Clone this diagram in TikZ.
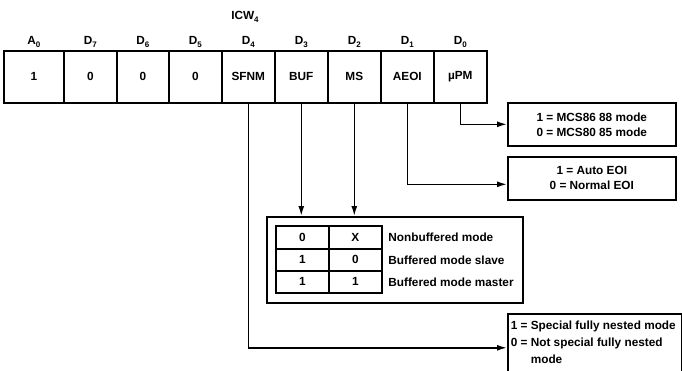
\documentclass[tikz,border=0pt]{standalone}
\usepackage{fontspec}
\setmainfont{Liberation Sans}
\usetikzlibrary{arrows.meta}
\newcommand\subx[1]{\raisebox{-0.5ex}{\fontsize{8}{9}\selectfont #1}}
\begin{document}
\begin{tikzpicture}[x=1pt,y=-1pt,
  line width=1.6pt,
  font=\fontsize{11.8}{15}\selectfont\bfseries,
  cellbox/.style={draw,minimum height=52pt,inner sep=0pt,anchor=north west},
  lbl/.style={inner sep=0pt},
  tcell/.style={draw,inner sep=0pt,anchor=north west},
  infobox/.style={draw,inner sep=0pt,anchor=north west},
  txt/.style={inner sep=0pt},
  arr/.style={-{Latex[length=10pt,width=6pt]}}
]
\useasboundingbox (0,0) rectangle (682,370);
% register
\node[cellbox,minimum width=60pt] (a0) at (3,50) {1};
\node[cellbox,minimum width=53pt] (d7) at (63,50) {0};
\node[cellbox,minimum width=52pt] (d6) at (116,50) {0};
\node[cellbox,minimum width=53pt] (d5) at (168,50) {0};
\node[cellbox,minimum width=53pt] (d4) at (221,50) {SFNM};
\node[cellbox,minimum width=53pt] (d3) at (274,50) {BUF};
\node[cellbox,minimum width=53pt] (d2) at (327,50) {MS};
\node[cellbox,minimum width=53pt] (d1) at (380,50) {AEOI};
\node[cellbox,minimum width=53pt] (d0) at (433,50) {µPM};
% labels
\node[lbl] (icw) at (245,17) {ICW\subx{4}};
\node[lbl] (la0) at (a0.center |- 0,42) {A\subx{0}};
\node[lbl] (ld7) at (d7.center |- 0,42) {D\subx{7}};
\node[lbl] (ld6) at (d6.center |- 0,42) {D\subx{6}};
\node[lbl] (ld5) at (d5.center |- 0,42) {D\subx{5}};
\node[lbl] (ld4) at (d4.center |- 0,42) {D\subx{4}};
\node[lbl] (ld3) at (d3.center |- 0,42) {D\subx{3}};
\node[lbl] (ld2) at (d2.center |- 0,42) {D\subx{2}};
\node[lbl] (ld1) at (d1.center |- 0,42) {D\subx{1}};
\node[lbl] (ld0) at (d0.center |- 0,42) {D\subx{0}};
% right boxes
\node[infobox,minimum width=168pt,minimum height=43pt,align=center] (mcs) at (507,102)
  {1 = MCS86 88 mode\\0 = MCS80 85 mode};
\node[infobox,minimum width=168pt,minimum height=43pt,align=center] (eoi) at (507,156)
  {1 = Auto EOI\\0 = Normal EOI};
% middle box
\node[infobox,minimum width=256pt,minimum height=86pt] (mid) at (266,216) {};
\node[tcell,minimum width=53pt,minimum height=23pt] (t11) at (275,225) {0};
\node[tcell,minimum width=53pt,minimum height=23pt] (t12) at (328,225) {X};
\node[tcell,minimum width=53pt,minimum height=22pt] (t21) at (275,248) {1};
\node[tcell,minimum width=53pt,minimum height=22pt] (t22) at (328,248) {0};
\node[tcell,minimum width=53pt,minimum height=22pt] (t31) at (275,270) {1};
\node[tcell,minimum width=53pt,minimum height=22pt] (t32) at (328,270) {1};
\node[txt,anchor=west] (r1) at ([xshift=5pt]t12.east) {Nonbuffered mode};
\node[txt,anchor=west] (r2) at ([xshift=5pt]t22.east) {Buffered mode slave};
\node[txt,anchor=west] (r3) at ([xshift=5pt]t32.east) {Buffered mode master};
% bottom box
\node[infobox,minimum width=174pt,minimum height=60pt] (sf) at (507,313) {};
\node[txt,anchor=north west,align=left,font=\fontsize{11.8}{17}\selectfont\bfseries] (sft)
  at ([xshift=3pt,yshift=-7pt]sf.north west)
  {1 = Special fully nested mode\\0 = Not special fully nested\\\phantom{0 = }mode};
% connectors
\draw[arr] (d0.south) |- (mcs.west);
\draw[arr] (d1.south) |- ([yshift=-6pt]eoi.west);
\draw[arr] (d3.south) -- (d3.south |- mid.north);
\draw[arr] (d2.south) -- (d2.south |- mid.north);
\draw[arr] (d4.south) |- ([yshift=-4pt]sf.west);
\end{tikzpicture}
\end{document}
